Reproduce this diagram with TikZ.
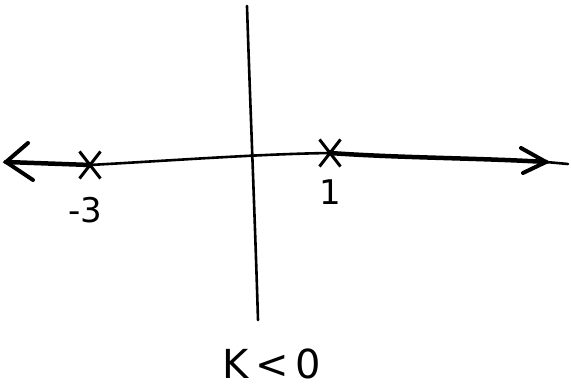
\documentclass[tikz,border=0pt]{standalone}
\usepackage{fontspec}
\setmainfont{DejaVu Sans}
\usetikzlibrary{shapes.misc,arrows.meta}
\begin{document}
\begin{tikzpicture}[x=1pt,y=-1pt,
  axis/.style={line width=2.6pt,line cap=round},
  thickaxis/.style={line width=4.5pt,line cap=round},
  tip/.style={line width=4pt,line cap=round},
  pole/.style={cross out,draw,line width=3pt,minimum width=18pt,minimum height=24pt,inner sep=0pt},
  lbl/.style={font=\fontsize{34}{36}\selectfont}]
\useasboundingbox (0,0) rectangle (571,390);
\coordinate (L) at (6,162);
\coordinate (R) at (546,162);
\coordinate (Rend) at (568,164);
\coordinate (T) at (247,6);
\coordinate (B) at (258,320);
\node[pole] (p3) at (90,165) {};
\node[pole] (p1) at (330,153) {};
\draw[thickaxis] (L) -- (p3.center);
\draw[axis] (p3.center) .. controls (180,160) and (260,154) .. (p1.center);
\draw[thickaxis] (p1.center) .. controls (400,158) and (480,158) .. (R);
\draw[axis] (R) -- (Rend);
\draw[tip] (28,143) -- (L) -- (33,180);
\draw[tip] (521,148) -- (R) -- (523,173);
\draw[axis] (T) .. controls (250,100) and (255,220) .. (B);
\node[lbl] (m3) at (85,210) {-3};
\node[lbl] (one) at (330,192) {1};
\node[lbl,font=\fontsize{40}{42}\selectfont] (k) at (272,364) {K\,<\,0};
\end{tikzpicture}
\end{document}
